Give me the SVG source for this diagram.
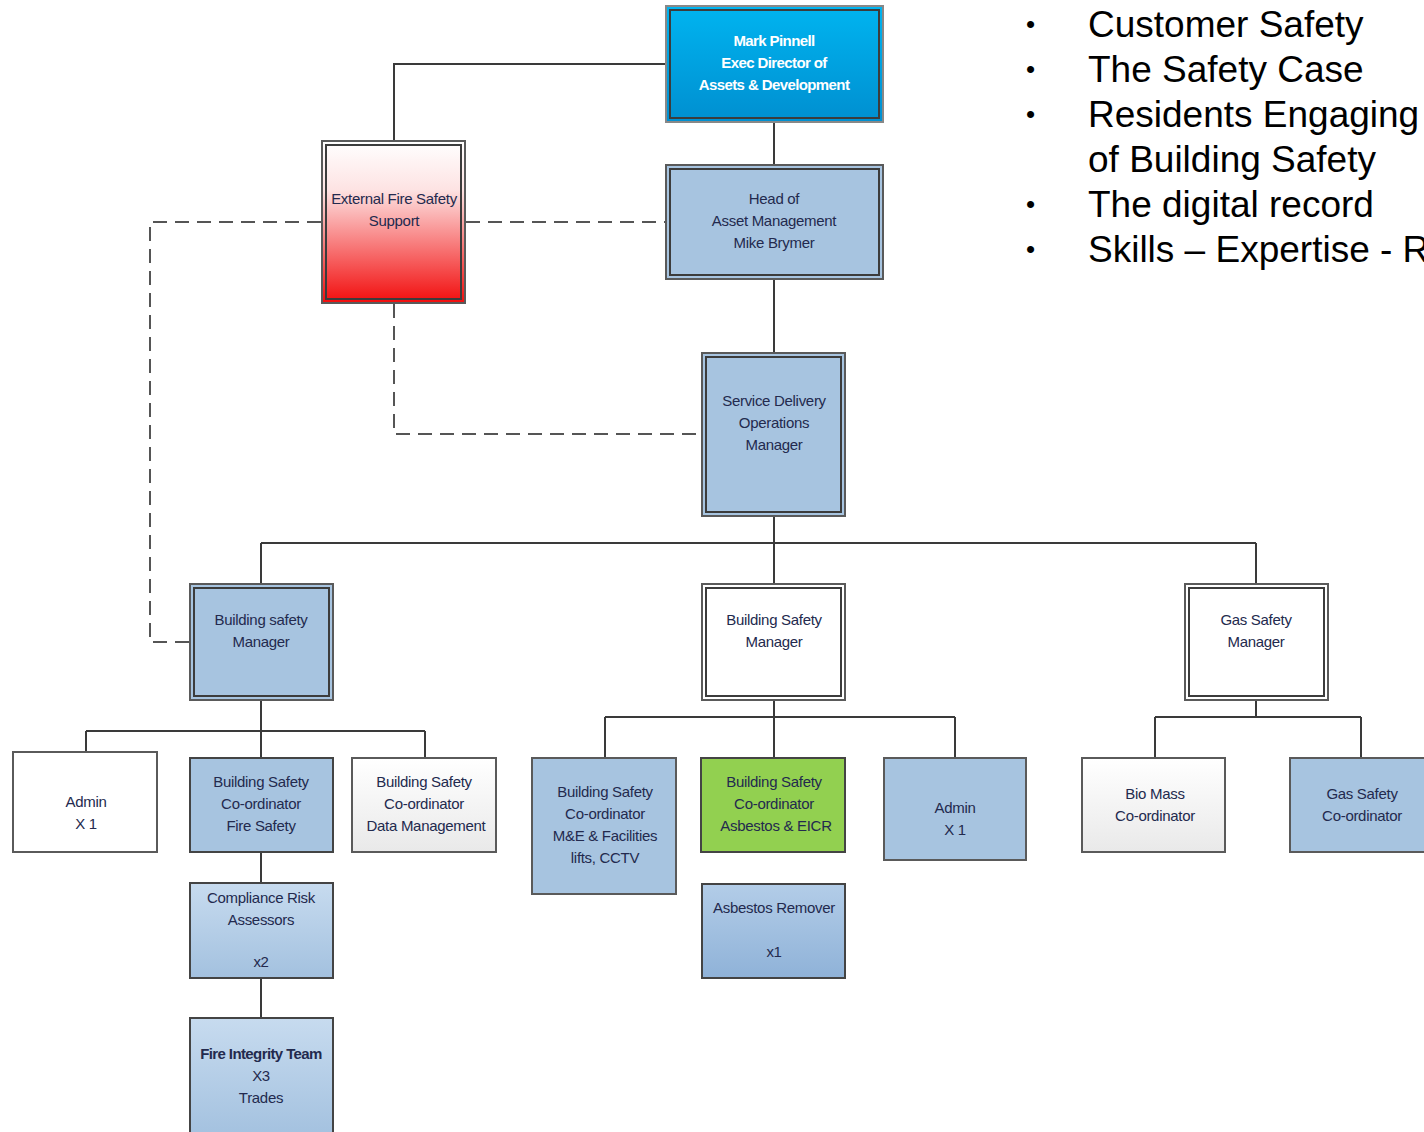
<svg xmlns="http://www.w3.org/2000/svg" width="1424" height="1132" viewBox="0 0 1424 1132">
<defs>
<linearGradient id="gTop" x1="0" y1="0" x2="0" y2="1"><stop offset="0" stop-color="#00b4f0"/><stop offset="1" stop-color="#008fd0"/></linearGradient>
<linearGradient id="gRed" x1="0" y1="0" x2="0" y2="1"><stop offset="0" stop-color="#ffffff"/><stop offset="0.3" stop-color="#fde3e3"/><stop offset="1" stop-color="#f20d0d"/></linearGradient>
<linearGradient id="gGray" x1="0" y1="0" x2="0" y2="1"><stop offset="0" stop-color="#ffffff"/><stop offset="1" stop-color="#e9e9e9"/></linearGradient>
<linearGradient id="gBlue" x1="0" y1="0" x2="0" y2="1"><stop offset="0" stop-color="#c7dbef"/><stop offset="1" stop-color="#a3c1df"/></linearGradient>
<linearGradient id="gBlue2" x1="0" y1="0" x2="0" y2="1"><stop offset="0" stop-color="#b3cde8"/><stop offset="1" stop-color="#8fb2d8"/></linearGradient>
</defs>
<style>
.t{font-family:"Liberation Sans",Arial,sans-serif;font-size:15px;fill:#232a4e;text-anchor:middle;letter-spacing:-0.3px}
.tw{font-family:"Liberation Sans",Arial,sans-serif;font-size:15px;fill:#ffffff;font-weight:bold;text-anchor:middle;letter-spacing:-0.6px}
.b{font-family:"Liberation Sans",Arial,sans-serif;font-size:37px;fill:#000000}
.d{font-family:"Liberation Sans",Arial,sans-serif;font-size:26px;fill:#000000}
.o{stroke:#5a5a5a;stroke-width:2}
.i{fill:none;stroke:#3c3c3c;stroke-width:2}
.s{stroke:#444;stroke-width:2}
.blue{fill:#a7c4e0}
.ln{fill:none;stroke:#3a3a3a;stroke-width:2}
.dl{fill:none;stroke:#555;stroke-width:2;stroke-dasharray:14 8}
</style>
<g id="connectors">
<path class="ln" d="M665 64 H394 V140"/>
<path class="ln" d="M774 123 V164 M774 280 V352 M774 517 V543 M261 543 H1256 M261 543 V583 M774 543 V583 M1256 543 V583"/>
<path class="ln" d="M261 701 V731 M86 731 H425 M86 731 V751 M261 731 V757 M425 731 V757"/>
<path class="ln" d="M261 853 V882 M261 979 V1017"/>
<path class="ln" d="M774 701 V717 M605 717 H955 M605 717 V757 M774 717 V757 M955 717 V757"/>
<path class="ln" d="M1256 701 V717 M1155 717 H1361 M1155 717 V757 M1361 717 V757"/>
<path class="dl" d="M321 222 H150 V642 H189"/>
<path class="dl" d="M466 222 H665"/>
<path class="dl" d="M394 304 V434 H701"/>
</g>
<g id="n-mark">
<rect x="666" y="6" width="217" height="116" fill="url(#gTop)" stroke="#888" stroke-width="2"/>
<rect x="670" y="10" width="209" height="108" class="i" stroke="#2f3f55"/>
<text class="tw" x="774" y="46">Mark Pinnell</text>
<text class="tw" x="774" y="68">Exec Director of</text>
<text class="tw" x="774" y="90">Assets &amp; Development</text>
</g>
<g id="n-external">
<rect x="322" y="141" width="143" height="162" fill="url(#gRed)" class="o"/>
<rect x="326" y="145" width="135" height="154" class="i"/>
<text class="t" x="394" y="204">External Fire Safety</text>
<text class="t" x="394" y="226">Support</text>
</g>
<g id="n-head">
<rect x="666" y="165" width="217" height="114" class="o blue"/>
<rect x="670" y="169" width="209" height="106" class="i"/>
<text class="t" x="774" y="204">Head of</text>
<text class="t" x="774" y="226">Asset Management</text>
<text class="t" x="774" y="248">Mike Brymer</text>
</g>
<g id="n-service">
<rect x="702" y="353" width="143" height="163" class="o blue"/>
<rect x="706" y="357" width="135" height="155" class="i"/>
<text class="t" x="774" y="406">Service Delivery</text>
<text class="t" x="774" y="428">Operations</text>
<text class="t" x="774" y="450">Manager</text>
</g>
<g id="n-bsm-left">
<rect x="190" y="584" width="143" height="116" class="o blue"/>
<rect x="194" y="588" width="135" height="108" class="i"/>
<text class="t" x="261" y="625">Building safety</text>
<text class="t" x="261" y="647">Manager</text>
</g>
<g id="n-bsm-mid">
<rect x="702" y="584" width="143" height="116" class="o" fill="#ffffff"/>
<rect x="706" y="588" width="135" height="108" class="i"/>
<text class="t" x="774" y="625">Building Safety</text>
<text class="t" x="774" y="647">Manager</text>
</g>
<g id="n-gsm">
<rect x="1185" y="584" width="143" height="116" class="o" fill="#ffffff"/>
<rect x="1189" y="588" width="135" height="108" class="i"/>
<text class="t" x="1256" y="625">Gas Safety</text>
<text class="t" x="1256" y="647">Manager</text>
</g>
<g id="n-admin-left">
<rect x="13" y="752" width="144" height="100" class="o" fill="#ffffff"/>
<text class="t" x="86" y="807">Admin</text>
<text class="t" x="86" y="829">X 1</text>
</g>
<g id="n-bsc-fire">
<rect x="190" y="758" width="143" height="94" class="s blue"/>
<text class="t" x="261" y="787">Building Safety</text>
<text class="t" x="261" y="809">Co-ordinator</text>
<text class="t" x="261" y="831">Fire Safety</text>
</g>
<g id="n-bsc-data">
<rect x="352" y="758" width="144" height="94" class="o" fill="url(#gGray)"/>
<text class="t" x="424" y="787">Building Safety</text>
<text class="t" x="424" y="809">Co-ordinator</text>
<text class="t" x="426" y="831">Data Management</text>
</g>
<g id="n-bsc-me">
<rect x="532" y="758" width="144" height="136" class="o blue"/>
<text class="t" x="605" y="797">Building Safety</text>
<text class="t" x="605" y="819">Co-ordinator</text>
<text class="t" x="605" y="841">M&amp;E &amp; Facilities</text>
<text class="t" x="605" y="863">lifts, CCTV</text>
</g>
<g id="n-bsc-asb">
<rect x="701" y="758" width="144" height="94" class="s" fill="#92d050"/>
<text class="t" x="774" y="787">Building Safety</text>
<text class="t" x="774" y="809">Co-ordinator</text>
<text class="t" x="776" y="831">Asbestos &amp; EICR</text>
</g>
<g id="n-admin-right">
<rect x="884" y="758" width="142" height="102" class="o blue"/>
<text class="t" x="955" y="813">Admin</text>
<text class="t" x="955" y="835">X 1</text>
</g>
<g id="n-biomass">
<rect x="1082" y="758" width="143" height="94" class="o" fill="url(#gGray)"/>
<text class="t" x="1155" y="799">Bio Mass</text>
<text class="t" x="1155" y="821">Co-ordinator</text>
</g>
<g id="n-gsc">
<rect x="1290" y="758" width="143" height="94" class="o blue"/>
<text class="t" x="1362" y="799">Gas Safety</text>
<text class="t" x="1362" y="821">Co-ordinator</text>
</g>
<g id="n-compliance">
<rect x="190" y="883" width="143" height="95" class="s" fill="url(#gBlue)" stroke="#222"/>
<text class="t" x="261" y="903">Compliance Risk</text>
<text class="t" x="261" y="925">Assessors</text>
<text class="t" x="261" y="967">x2</text>
</g>
<g id="n-fire-integrity">
<rect x="190" y="1018" width="143" height="120" class="s" fill="url(#gBlue)" stroke="#333"/>
<text class="t" x="261" y="1059" font-weight="bold" style="letter-spacing:-0.6px">Fire Integrity Team</text>
<text class="t" x="261" y="1081">X3</text>
<text class="t" x="261" y="1103">Trades</text>
</g>
<g id="n-asb-remover">
<rect x="702" y="884" width="143" height="94" class="s" fill="url(#gBlue2)" stroke="#222"/>
<text class="t" x="774" y="913">Asbestos Remover</text>
<text class="t" x="774" y="957">x1</text>
</g>
<g id="bullets">
<text class="d" x="1026" y="33">•</text><text class="b" x="1088" y="37">Customer Safety</text>
<text class="d" x="1026" y="78">•</text><text class="b" x="1088" y="82">The Safety Case</text>
<text class="d" x="1026" y="123">•</text><text class="b" x="1088" y="127">Residents Engaging</text>
<text class="b" x="1088" y="172">of Building Safety</text>
<text class="d" x="1026" y="213">•</text><text class="b" x="1088" y="217">The digital record</text>
<text class="d" x="1026" y="258">•</text><text class="b" x="1088" y="262">Skills – Expertise - R</text>
</g>
</svg>
